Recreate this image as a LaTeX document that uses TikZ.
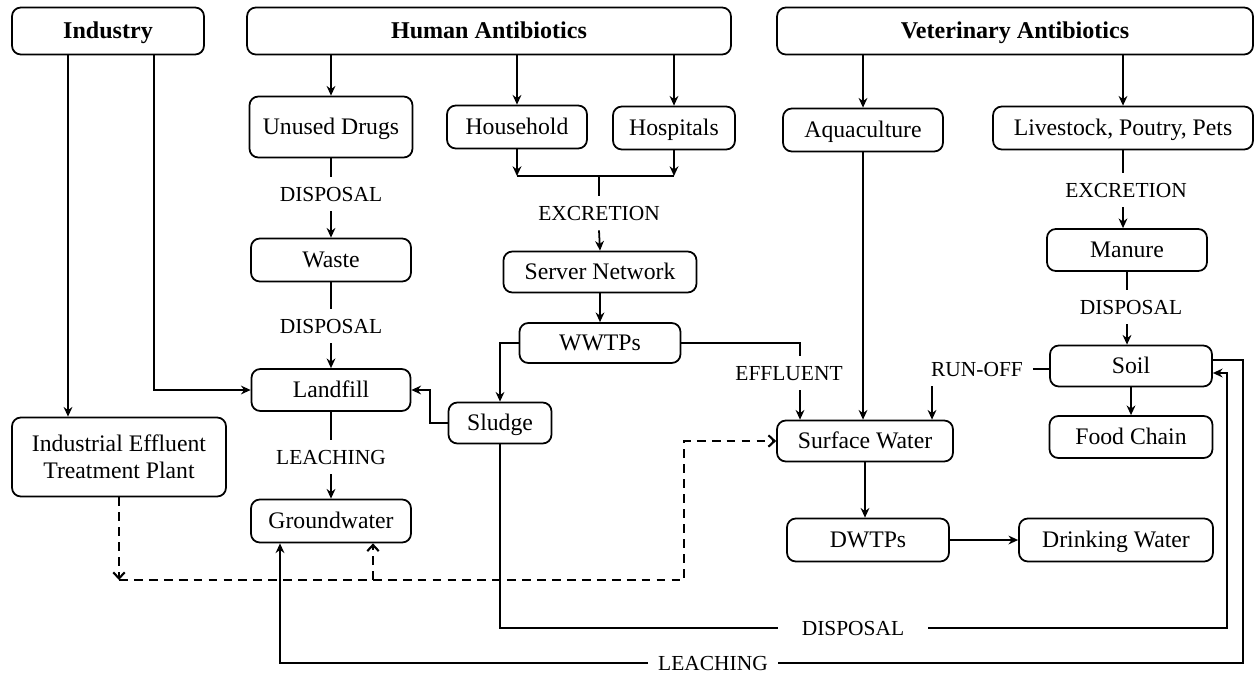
\documentclass[tikz,border=0pt]{standalone}
\usepackage{fontspec}
\setmainfont{Liberation Serif}
\usetikzlibrary{arrows.meta}
\tikzset{
  plain/.style={draw, line width=1pt, rounded corners=5pt, inner sep=0pt, minimum height=0.86cm, align=center, font=\fontsize{13.5}{15.5}\selectfont},
  box/.style={plain, text height=9pt, text depth=0pt},
  head/.style={box, minimum height=0.94cm, font=\fontsize{13.7}{16}\selectfont\bfseries},
  lbl/.style={inner xsep=5.5pt, inner ysep=5.5pt, text height=8.3pt, text depth=0pt, font=\fontsize{12.2}{14}\selectfont},
  link/.style={line width=1pt},
  arr/.style={line width=1pt, -{Stealth[length=5.5pt,width=5pt]}},
  dasharr/.style={line width=1.2pt, dash pattern=on 5pt off 3.5pt, -{Straight Barb[length=3.5pt,width=6.5pt]}}
}
\begin{document}
\begin{tikzpicture}[x=0.02cm, y=-0.02cm]
\useasboundingbox (0,0) rectangle (1257,673);
\node[head, minimum width=3.84cm] (ind) at (108,31){Industry};
\node[head, minimum width=9.68cm] (hum) at (489,31){Human Antibiotics};
\node[head, minimum width=9.52cm] (vet) at (1015,31){Veterinary Antibiotics};
\node[box, minimum width=3.26cm, minimum height=1.22cm] (unused) at (331,127){Unused Drugs};
\node[box, minimum width=2.8cm] (house) at (517,127){Household};
\node[box, minimum width=2.44cm] (hosp) at (674,128){Hospitals};
\node[box, minimum width=3.2cm] (aqua) at (863,130){Aquaculture};
\node[box, minimum width=5.2cm] (live) at (1123,128){Livestock, Poutry, Pets};
\node[lbl] (disp1) at (331,194){DISPOSAL};
\node[box, minimum width=3.2cm] (waste) at (331,260){Waste};
\node[lbl] (disp2) at (331,326){DISPOSAL};
\node[box, minimum width=3.18cm, minimum height=0.84cm] (landfill) at (331,390){Landfill};
\node[lbl] (leach1) at (331,457){LEACHING};
\node[box, minimum width=3.2cm] (ground) at (331,521){Groundwater};
\node[plain, minimum width=4.28cm, minimum height=1.58cm] (ietp) at (119,457){Industrial Effluent\\Treatment Plant};
\node[lbl] (excr1) at (599,213){EXCRETION};
\node[box, minimum width=3.86cm, minimum height=0.82cm] (server) at (600,272){Server Network};
\node[box, minimum width=3.22cm, minimum height=0.8cm] (wwtp) at (600,343){WWTPs};
\node[box, minimum width=2.06cm, minimum height=0.82cm] (sludge) at (500,423){Sludge};
\node[lbl] (eff) at (789,373){EFFLUENT};
\node[lbl] (run) at (977,369){RUN-OFF};
\node[box, minimum width=3.52cm, minimum height=0.82cm] (surface) at (865,441){Surface Water};
\node[box, minimum width=3.24cm] (dwtp) at (868,540){DWTPs};
\node[box, minimum width=3.88cm] (drink) at (1116,540){Drinking Water};
\node[lbl] (excr2) at (1126,190){EXCRETION};
\node[box, minimum width=3.2cm, minimum height=0.84cm] (manure) at (1127,250){Manure};
\node[lbl] (disp3) at (1131,307){DISPOSAL};
\node[box, minimum width=3.24cm, minimum height=0.82cm] (soil) at (1131,366){Soil};
\node[box, minimum width=3.26cm, minimum height=0.84cm] (food) at (1131,437){Food Chain};
\node[lbl, inner xsep=13.5pt] (disp4) at (853,628){DISPOSAL};
\node[lbl] (leach2) at (713,663){LEACHING};
\coordinate (xa) at (68,0);
\coordinate (xb) at (154,0);
\coordinate (xs) at (430,0);
\coordinate (xe) at (800,0);
\coordinate (xr) at (932,0);
\coordinate (xw) at (684,0);
\coordinate (xg) at (280,0);
\coordinate (xg2) at (373,0);
\coordinate (xd) at (1227,0);
\coordinate (xl) at (1243,0);
\coordinate (jn) at (599,176);
\coordinate (dj) at (118,580);
\coordinate (sin) at ([yshift=-0.14cm]soil.east);
\coordinate (sout) at ([yshift=0.12cm]soil.east);
\draw[arr](ind.south -| xa) -- (ietp.north -| xa);
\draw[arr](ind.south -| xb) |- (landfill.west);
\draw[arr](hum.south -| unused.north) -- (unused.north);
\draw[arr](hum.south -| house.north) -- (house.north);
\draw[arr](hum.south -| hosp.north) -- (hosp.north);
\draw[arr](vet.south -| aqua.north) -- (aqua.north);
\draw[arr](vet.south -| live.north) -- (live.north);
\draw[link](unused.south) -- (disp1.north);
\draw[arr](disp1.south) -- (waste.north);
\draw[link](waste.south) -- (disp2.north);
\draw[arr](disp2.south) -- (landfill.north);
\draw[link](landfill.south) -- (leach1.north);
\draw[arr](leach1.south) -- (ground.north);
\draw[arr](house.south) -- (house.south |- jn);
\draw[arr](hosp.south) -- (hosp.south |- jn);
\draw[link](house.south |- jn) -- (hosp.south |- jn);
\draw[link](jn) -- (excr1.north);
\draw[arr](excr1.south) -- (server.north);
\draw[arr](server.south) -- (wwtp.north);
\draw[arr](wwtp.west) -| (sludge.north);
\draw[arr](sludge.west) -| (xs |- landfill.east) -- (landfill.east);
\draw[link](wwtp.east) -| (xe |- eff.north);
\draw[arr](xe |- eff.south) -- (xe |- surface.north);
\draw[arr](aqua.south) -- (aqua.south |- surface.north);
\draw[link](run.east) -- (run.east -| soil.west);
\draw[arr](xr |- run.south) -- (xr |- surface.north);
\draw[link](live.south) -- (live.south |- excr2.north);
\draw[arr](live.south |- excr2.south) -- (live.south |- manure.north);
\draw[link](manure.south) -- (manure.south |- disp3.north);
\draw[arr](manure.south |- disp3.south) -- (manure.south |- soil.north);
\draw[arr](soil.south) -- (food.north);
\draw[arr](surface.south) -- (surface.south |- dwtp.north);
\draw[arr](dwtp.east) -- (dwtp.east -| drink.west);
\draw[link](sludge.south) |- (disp4.west);
\draw[arr](disp4.east) -| (xd |- sin) -- (sin);
\draw[link](sout) -| (xl |- leach2.east) -- (leach2.east);
\draw[arr](leach2.west) -| (xg |- ground.south);
\draw[dasharr](ietp.south) -- (ietp.south |- dj);
\draw[dasharr](ietp.south |- dj) -| (xw |- surface.west) -- (surface.west);
\draw[dasharr](xg2 |- dj) -- (xg2 |- ground.south);
\end{tikzpicture}
\end{document}
